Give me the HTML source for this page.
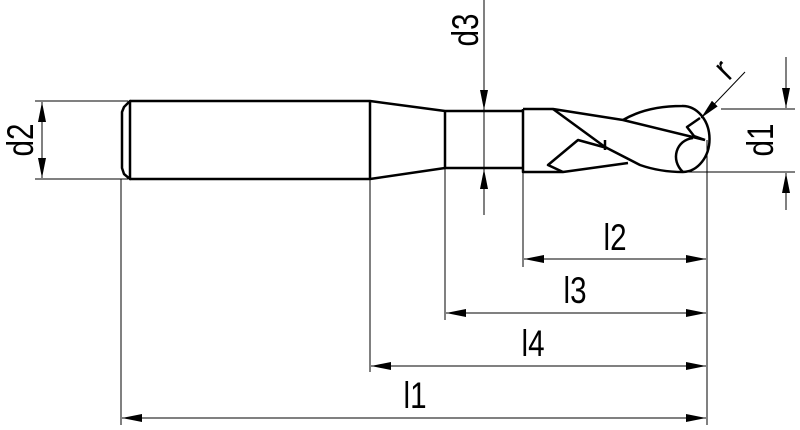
<!DOCTYPE html>
<html><head><style>
html,body{margin:0;padding:0;background:#fff;width:800px;height:430px;overflow:hidden}
text{font-family:"Liberation Sans","DejaVu Sans",sans-serif;font-size:37px;fill:#000}
</style></head><body>
<svg width="800" height="430" viewBox="0 0 800 430" xmlns="http://www.w3.org/2000/svg">
<defs>
<marker id="a" viewBox="0 0 20 8" refX="20" refY="4" markerWidth="20" markerHeight="8" markerUnits="userSpaceOnUse" orient="auto"><path d="M0,0 L20,4 L0,8 z" fill="#000"/></marker>
</defs>
<g stroke="#000" stroke-width="1" fill="none">
<line x1="35" y1="101" x2="128" y2="101"/><line x1="35" y1="179" x2="128" y2="179"/>
<line x1="42" y1="140" x2="42" y2="102" marker-end="url(#a)"/><line x1="42" y1="140" x2="42" y2="178" marker-end="url(#a)"/>
<line x1="484" y1="0" x2="484" y2="110" marker-end="url(#a)"/>
<line x1="484" y1="215" x2="484" y2="169" marker-end="url(#a)"/>
<line x1="484" y1="111" x2="484" y2="168"/>
<line x1="721" y1="109" x2="795" y2="109"/><line x1="680" y1="172" x2="795" y2="172"/>
<line x1="786" y1="57" x2="786" y2="108" marker-end="url(#a)"/>
<line x1="786" y1="210" x2="786" y2="173" marker-end="url(#a)"/>
<line x1="745" y1="72" x2="701" y2="118" marker-end="url(#a)"/>
<line x1="121" y1="179" x2="121" y2="425"/>
<line x1="370" y1="179" x2="370" y2="372"/>
<line x1="445" y1="168" x2="445" y2="320"/>
<line x1="523" y1="172" x2="523" y2="267"/>
<line x1="707" y1="140" x2="707" y2="425"/>
<line x1="600" y1="259" x2="524" y2="259" marker-end="url(#a)"/><line x1="600" y1="259" x2="706" y2="259" marker-end="url(#a)"/>
<line x1="580" y1="313" x2="446" y2="313" marker-end="url(#a)"/><line x1="580" y1="313" x2="706" y2="313" marker-end="url(#a)"/>
<line x1="540" y1="366" x2="371" y2="366" marker-end="url(#a)"/><line x1="540" y1="366" x2="706" y2="366" marker-end="url(#a)"/>
<line x1="400" y1="418" x2="122" y2="418" marker-end="url(#a)"/><line x1="400" y1="418" x2="706" y2="418" marker-end="url(#a)"/>
</g>
<g stroke="#000" stroke-width="2.5" fill="none" stroke-linejoin="round">
<path d="M130,101 L370,101 L445,111 L523,111 M130,179 L370,179 L445,168 L523,168"/>
<path d="M130,101 L124,107 L122,112 L122,168 L124,174 L130,179 Z"/>
<line x1="370" y1="101" x2="370" y2="179"/>
<line x1="445" y1="111" x2="445" y2="168"/>
<path d="M523,109 L523,172 L563,172 L628,163"/>
<path d="M523,109 L553,109 L623,120 L705,140"/>
<path d="M623,120 C640,110 660,106 682,106 A27 33 0 0 1 683,172"/>
<path d="M553,109 L605,147 L640,165 Q660,172 683,172"/>
<path d="M563,172 L548,165 L578,140 L607,148"/>
<path d="M605,140 L605,150"/>
<path d="M700,118 L687,127 L694,136 L705,140"/>
<path d="M693,138 C676,140 670,160 683,172"/>
</g>
<text transform="translate(33,140) rotate(-90) scale(0.8,1)" text-anchor="middle">d2</text>
<text transform="translate(478,30) rotate(-90) scale(0.8,1)" text-anchor="middle">d3</text>
<text transform="translate(773,140) rotate(-90) scale(0.8,1)" text-anchor="middle">d1</text>
<text transform="translate(732,78) rotate(-45) scale(0.8,1)" text-anchor="middle">r</text>
<text transform="translate(615,250) scale(0.8,1)" text-anchor="middle">l2</text>
<text transform="translate(575,303) scale(0.8,1)" text-anchor="middle">l3</text>
<text transform="translate(533,356) scale(0.8,1)" text-anchor="middle">l4</text>
<text transform="translate(415,408) scale(0.8,1)" text-anchor="middle">l1</text>
</svg>
</body></html>
